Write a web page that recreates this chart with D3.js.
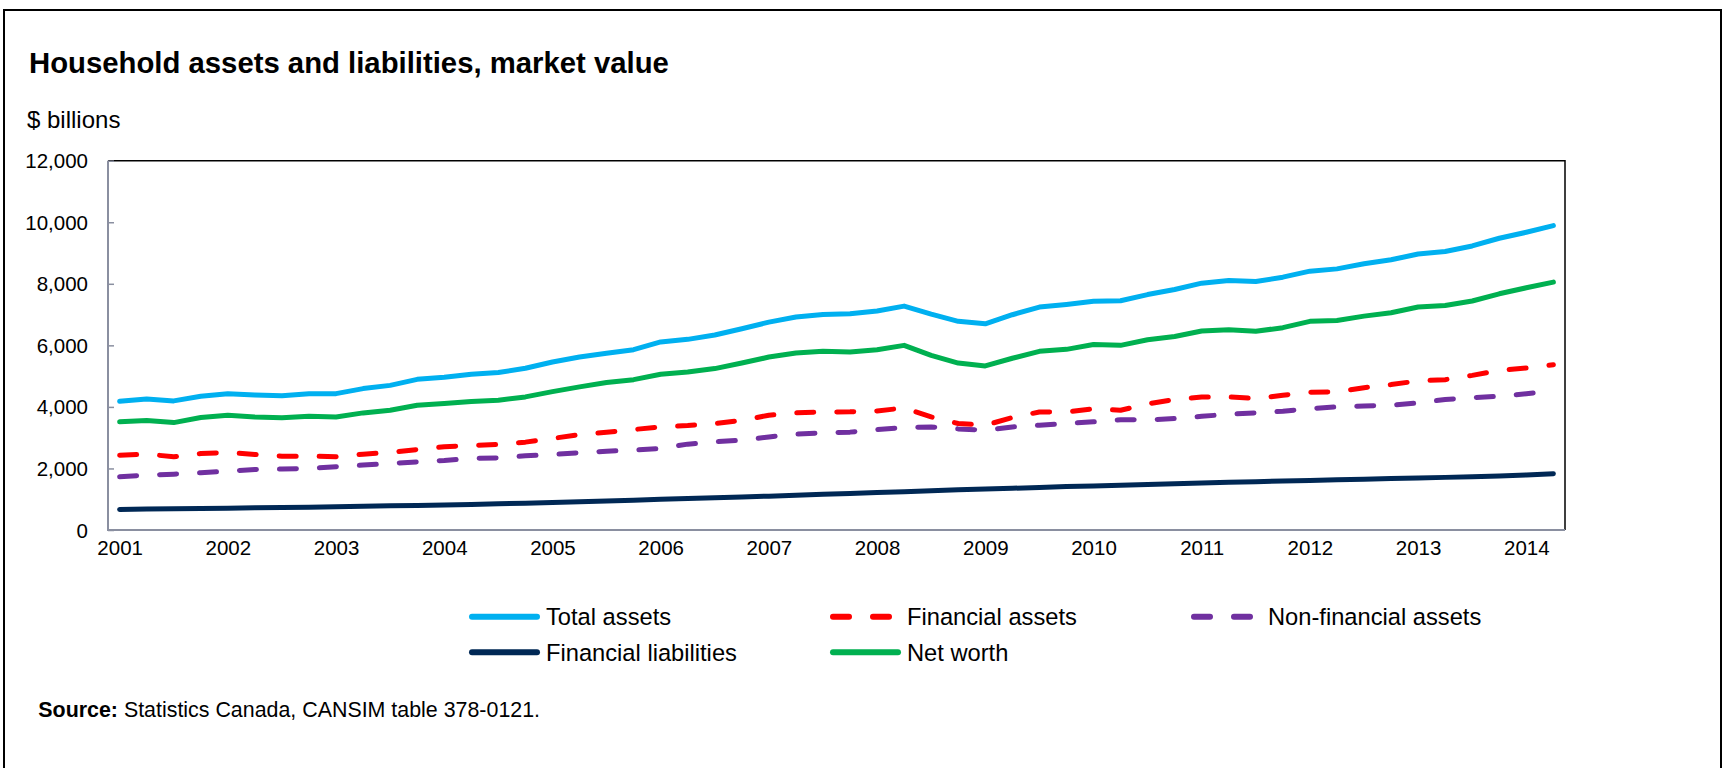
<!DOCTYPE html>
<html>
<head>
<meta charset="utf-8">
<script src="https://cdn.jsdelivr.net/npm/d3@7"></script>
<style>
  body { margin: 0; background: #fff; }
  svg text { font-family: "Liberation Sans", Arial, sans-serif; fill: #000; }
</style>
</head>
<body>
<svg id="chart" width="1729" height="768"></svg>
<script>
// quarterly data, 2001 Q1 to 2014 Q2, $ billions
var years = [2001, 2002, 2003, 2004, 2005, 2006, 2007, 2008, 2009, 2010, 2011, 2012, 2013, 2014];
var quarterNames = ["Q1", "Q2", "Q3", "Q4"];
var yTicks = [0, 2000, 4000, 6000, 8000, 10000, 12000];

var totalAssets = [
	4180, 4260, 4195, 4345, 4430, 4390, 4360, 4430, 4430, 4595, 4700, 4895,
	4960, 5060, 5115, 5255, 5460, 5620, 5740, 5860, 6110, 6195, 6335, 6540,
	6755, 6920, 7005, 7030, 7115, 7275, 7015, 6780, 6700, 6995, 7245, 7330,
	7430, 7450, 7650, 7815, 8020, 8110, 8075, 8215, 8410, 8485, 8650, 8780,
	8970, 9050, 9230, 9480, 9675, 9890];
var financialAssets = [
	2430, 2465, 2380, 2485, 2520, 2455, 2400, 2400, 2380, 2465, 2520, 2615,
	2705, 2745, 2780, 2855, 2975, 3100, 3175, 3265, 3350, 3395, 3460, 3565,
	3730, 3805, 3835, 3840, 3870, 3965, 3675, 3460, 3405, 3655, 3835, 3840,
	3935, 3890, 4100, 4240, 4325, 4325, 4270, 4380, 4475, 4485, 4625, 4725,
	4845, 4885, 5025, 5190, 5265, 5370];
var nonFinancialAssets = [
	1730, 1785, 1815, 1860, 1915, 1965, 1980, 2000, 2055, 2110, 2160, 2215,
	2260, 2325, 2345, 2410, 2455, 2510, 2560, 2595, 2650, 2790, 2865, 2920,
	3025, 3115, 3155, 3180, 3265, 3330, 3350, 3285, 3245, 3350, 3405, 3460,
	3515, 3585, 3580, 3620, 3695, 3760, 3805, 3860, 3945, 4000, 4030, 4055,
	4130, 4240, 4300, 4345, 4430, 4520];
var financialLiabilities = [
	670, 680, 690, 700, 710, 720, 730, 740, 755, 770, 785, 800,
	815, 830, 850, 870, 895, 920, 945, 970, 1000, 1025, 1050, 1075,
	1100, 1130, 1160, 1190, 1215, 1245, 1275, 1310, 1330, 1355, 1385, 1410,
	1430, 1455, 1475, 1500, 1530, 1550, 1570, 1590, 1610, 1630, 1650, 1670,
	1690, 1710, 1730, 1755, 1790, 1830];
var netWorth = [
	3515, 3560, 3490, 3655, 3730, 3675, 3645, 3695, 3675, 3805, 3890, 4055,
	4110, 4175, 4215, 4325, 4495, 4650, 4790, 4885, 5060, 5135, 5245, 5425,
	5620, 5750, 5805, 5785, 5860, 6000, 5675, 5425, 5330, 5580, 5805, 5870,
	6030, 6000, 6180, 6290, 6465, 6510, 6455, 6575, 6780, 6810, 6950, 7060,
	7245, 7295, 7440, 7675, 7870, 8055];

// category list: every quarter up to 2014 Q2
var quarters = [];
years.forEach(function (yr) {
	quarterNames.forEach(function (q) { quarters.push(yr + " " + q); });
});
quarters = quarters.slice(0, totalAssets.length);

var series = [
	{name: "Total assets", values: totalAssets, color: "#00b0f0", dash: null, col: 0, row: 0},
	{name: "Financial assets", values: financialAssets, color: "#ff0000", dash: "17 23", col: 1, row: 0},
	{name: "Non-financial assets", values: nonFinancialAssets, color: "#7030a0", dash: "17 23", col: 2, row: 0},
	{name: "Financial liabilities", values: financialLiabilities, color: "#002855", dash: null, col: 0, row: 1},
	{name: "Net worth", values: netWorth, color: "#00b050", dash: null, col: 1, row: 1}
];

var svg = d3.select("#chart");
var plot = {left: 108, right: 1565, top: 160.7, bottom: 530};

//outer frame
svg.append("rect")
	.attr("x", 4).attr("y", 10)
	.attr("width", 1717).attr("height", 800)
	.attr("fill", "none")
	.attr("stroke", "#000")
	.attr("stroke-width", 2);

svg.append("text")
	.attr("x", 29).attr("y", 72.5)
	.attr("font-size", 29.3).attr("font-weight", "bold")
	.text("Household assets and liabilities, market value");

svg.append("text")
	.attr("x", 27).attr("y", 128)
	.attr("font-size", 24)
	.text("$ billions");

var x = d3.scalePoint()
	.domain(quarters)
	.range([plot.left, plot.right])
	.padding(0.43);

var y = d3.scaleLinear()
	.domain([0, 12000])
	.range([plot.bottom, plot.top]);

//top and right border in black
svg.append("path")
	.attr("d", "M" + plot.left + "," + plot.top + "H" + plot.right + "V" + plot.bottom)
	.attr("fill", "none")
	.attr("stroke", "#000")
	.attr("stroke-width", 1.5);

//y axis, ticks pointing inward
var yAxis = svg.append("g")
	.attr("transform", "translate(" + plot.left + ",0)")
	.call(d3.axisRight(y).tickValues(yTicks).tickSize(6).tickFormat(""));
yAxis.select(".domain").remove();
yAxis.selectAll("line").attr("stroke", "#8a8fa0").attr("stroke-width", 1.5);

svg.append("g")
	.selectAll("text")
	.data(yTicks)
	.enter()
	.append("text")
	.attr("x", 88)
	.attr("y", function (d) { return y(d) + 7.5; })
	.attr("text-anchor", "end")
	.attr("font-size", 20.5)
	.text(function (d) { return d3.format(",")(d); });

//x axis labels on each first quarter
var xAxis = svg.append("g")
	.attr("transform", "translate(0," + plot.bottom + ")")
	.call(d3.axisBottom(x)
		.tickValues(quarters.filter(function (q) { return q.slice(5) == "Q1"; }))
		.tickSize(0)
		.tickPadding(10)
		.tickFormat(function (q) { return q.slice(0, 4); }));
xAxis.select(".domain").remove();
xAxis.selectAll("text")
	.attr("font-size", 20.5)
	.attr("font-family", "Liberation Sans, Arial, sans-serif")
	.attr("fill", "#000");

//left and bottom axis lines in grey
svg.append("path")
	.attr("d", "M" + plot.left + "," + plot.top + "V" + plot.bottom + "H" + plot.right)
	.attr("fill", "none")
	.attr("stroke", "#8a8fa0")
	.attr("stroke-width", 2);

var line = d3.line()
	.x(function (d, i) { return x(quarters[i]); })
	.y(function (d) { return y(d); });

//draw order: liabilities, non-financial, financial, net worth, total
var drawOrder = [3, 2, 1, 4, 0];
drawOrder.forEach(function (k) {
	var s = series[k];
	svg.append("path")
		.datum(s.values)
		.attr("d", line)
		.attr("fill", "none")
		.attr("stroke", s.color)
		.attr("stroke-width", 5)
		.attr("stroke-linecap", "round")
		.attr("stroke-linejoin", "round")
		.attr("stroke-dasharray", s.dash);
});

//legend
var legendCols = [469, 830, 1191];
var legendRows = [616.7, 652.3];
var legend = svg.append("g")
	.selectAll("g")
	.data(series)
	.enter()
	.append("g")
	.attr("transform", function (d) {
		return "translate(" + legendCols[d.col] + "," + legendRows[d.row] + ")";
	});

legend.append("line")
	.attr("x1", 3).attr("x2", 68)
	.attr("y1", 0).attr("y2", 0)
	.attr("stroke", function (d) { return d.color; })
	.attr("stroke-width", 6)
	.attr("stroke-linecap", "round")
	.attr("stroke-dasharray", function (d) { return d.dash ? "16 24" : null; });

legend.append("text")
	.attr("x", 77)
	.attr("y", 8.3)
	.attr("font-size", 23.7)
	.text(function (d) { return d.name; });

//source note
var source = svg.append("text")
	.attr("x", 38.3).attr("y", 717)
	.attr("font-size", 21.4);
source.append("tspan").attr("font-weight", "bold").text("Source:");
source.append("tspan").text(" Statistics Canada,  CANSIM table 378-0121.");
</script>
</body>
</html>
